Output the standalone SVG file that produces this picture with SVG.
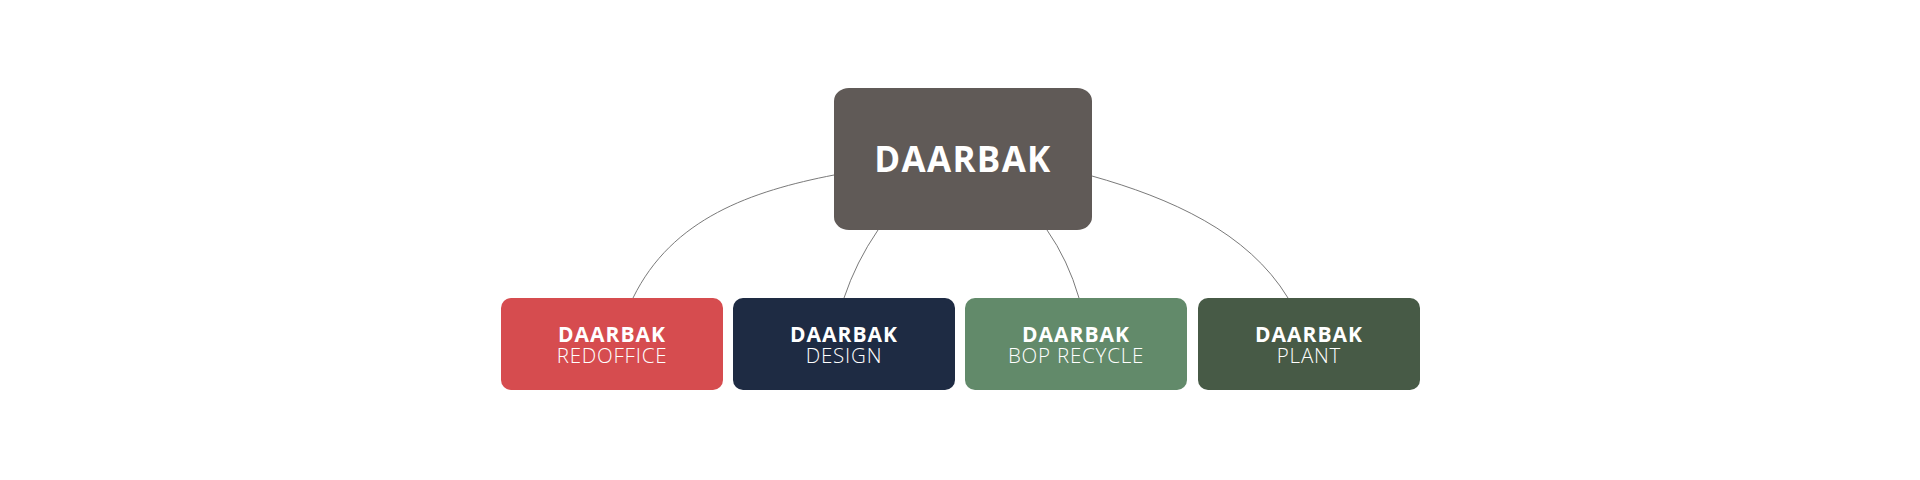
<svg xmlns="http://www.w3.org/2000/svg" width="1920" height="480" viewBox="0 0 1920 480">
  <style>
    .conn { fill: none; stroke: #7a7a7a; stroke-width: 1; }
    .label { font-family: "Open Sans", "Noto Sans", "Liberation Sans", sans-serif; fill: #ffffff; text-anchor: middle; }
    .title { font-weight: 700; }
    .small { font-size: 21px; }
    .b { font-weight: 700; letter-spacing: 1px; }
    .sub { font-weight: 300; letter-spacing: 0.8px; font-size: 20.5px; }
  </style>
  <rect width="1920" height="480" fill="#ffffff"/>
  <g id="connectors">
    <path class="conn" d="M834,175 C752,191 672,218 633,298"/>
    <path class="conn" d="M878,230 Q856,262 844,298"/>
    <path class="conn" d="M1047,230 Q1068,260 1079,298"/>
    <path class="conn" d="M1092,176 C1170,198 1248,232 1288,298"/>
  </g>
  <g id="root">
    <rect x="834" y="88" width="258" height="142" rx="15" ry="13" fill="#605a57"/>
    <text class="label title" x="963" y="171.5" font-size="35" letter-spacing="1.3">DAARBAK</text>
  </g>
  <g id="redoffice">
    <rect x="501" y="298" width="222" height="92" rx="10" fill="#d64c4f"/>
    <text class="label small" x="612" y="341.5"><tspan class="b">DAARBAK</tspan><tspan class="sub" x="612" dy="21">REDOFFICE</tspan></text>
  </g>
  <g id="design">
    <rect x="733" y="298" width="222" height="92" rx="10" fill="#1e2b43"/>
    <text class="label small" x="844" y="341.5"><tspan class="b">DAARBAK</tspan><tspan class="sub" x="844" dy="21">DESIGN</tspan></text>
  </g>
  <g id="bop-recycle">
    <rect x="965" y="298" width="222" height="92" rx="10" fill="#628a6a"/>
    <text class="label small" x="1076" y="341.5"><tspan class="b">DAARBAK</tspan><tspan class="sub" x="1076" dy="21">BOP RECYCLE</tspan></text>
  </g>
  <g id="plant">
    <rect x="1198" y="298" width="222" height="92" rx="10" fill="#475a46"/>
    <text class="label small" x="1309" y="341.5"><tspan class="b">DAARBAK</tspan><tspan class="sub" x="1309" dy="21">PLANT</tspan></text>
  </g>
</svg>
